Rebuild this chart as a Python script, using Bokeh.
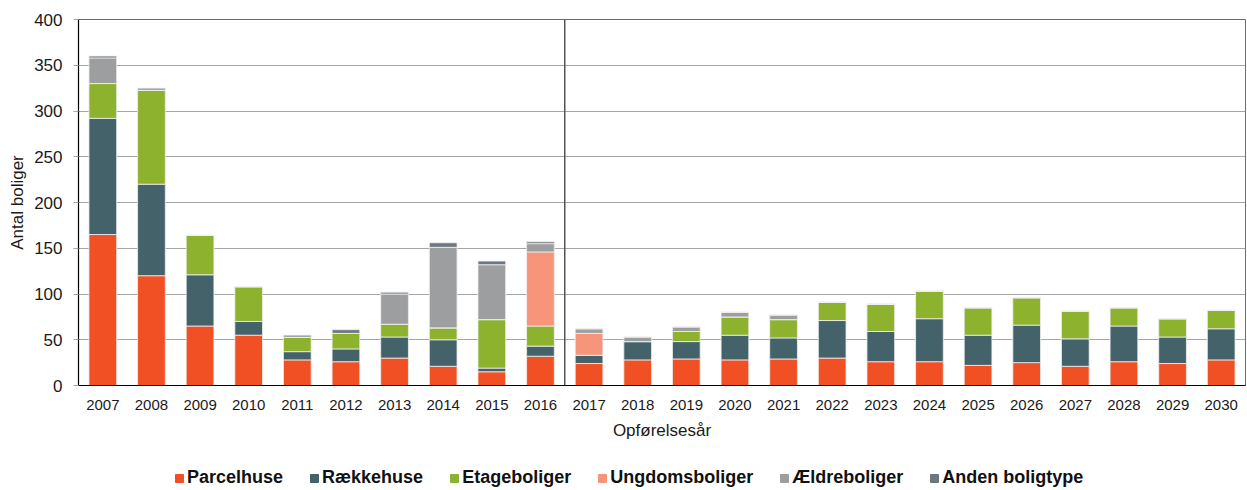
from bokeh.plotting import figure
from bokeh.models import Legend, LegendItem, Span, SingleIntervalTicker, ColumnDataSource
from bokeh.layouts import column
from bokeh.embed import file_html
from bokeh.resources import INLINE

years = [str(y) for y in range(2007, 2031)]
parcelhuse   = [165, 120, 65, 55, 28, 26, 30, 21, 15, 32, 24, 28, 29, 28, 29, 30, 26, 26, 22, 25, 21, 26, 24, 28]
raekkehuse   = [127, 100, 56, 15, 9, 14, 23, 29, 4, 11, 9, 20, 19, 27, 23, 41, 33, 47, 33, 41, 30, 39, 29, 34]
etageboliger = [38, 103, 43, 38, 16, 17, 14, 13, 53, 22, 0, 0, 11, 20, 20, 20, 30, 30, 30, 30, 30, 20, 20, 20]
ungdomsboliger = [0, 0, 0, 0, 0, 0, 0, 0, 0, 81, 24, 0, 0, 0, 0, 0, 0, 0, 0, 0, 0, 0, 0, 0]
aeldreboliger  = [28, 0, 0, 0, 0, 0, 33, 88, 60, 9, 5, 5, 5, 5, 5, 0, 0, 0, 0, 0, 0, 0, 0, 0]
anden          = [2, 2, 0, 0, 2, 4, 2, 5, 4, 2, 0, 0, 0, 0, 0, 0, 0, 0, 0, 0, 0, 0, 0, 0]

series_names = ["Parcelhuse", "Rækkehuse", "Etageboliger", "Ungdomsboliger", "Ældreboliger", "Anden boligtype"]
keys = ["p", "r", "e", "u", "ae", "a"]
colors = ["#F05023", "#44626A", "#8DB22E", "#F6957A", "#9D9E9F", "#6E7780"]

source = ColumnDataSource(dict(years=years, p=parcelhuse, r=raekkehuse, e=etageboliger,
                               u=ungdomsboliger, ae=aeldreboliger, a=anden))

FONT = "Liberation Sans"
W = 1246

p = figure(x_range=years, y_range=(0, 400), width=W, height=446,
           output_backend="svg", toolbar_location=None,
           min_border_left=78, min_border_right=1, min_border_top=19, min_border_bottom=61)

renderers = p.vbar_stack(keys, x="years", width=0.57, source=source, color=colors,
                         line_color="#f0f0f0", line_width=0.8)

# separator between historical and projected years
p.add_layout(Span(location=10, dimension="height", line_color="#555555", line_width=1.5))

p.xgrid.grid_line_color = None
p.ygrid.grid_line_color = "#a6a6a6"
p.ygrid.grid_line_width = 1.2
p.outline_line_color = "#6b6b6b"
p.outline_line_width = 1

p.yaxis.ticker = SingleIntervalTicker(interval=50)
p.yaxis.axis_label = "Antal boliger"
p.xaxis.axis_label = "Opførelsesår"
for ax in (p.xaxis, p.yaxis):
    ax.axis_line_color = "black"
    ax.axis_line_width = 1.2
    ax.major_label_text_font = FONT
    ax.axis_label_text_font = FONT
    ax.axis_label_text_font_style = "normal"
    ax.axis_label_text_color = "#1a1a1a"
    ax.major_label_text_color = "#1a1a1a"
    ax.minor_tick_line_color = None

p.yaxis.major_label_text_font_size = "17px"
p.yaxis.axis_label_text_font_size = "17px"
p.yaxis.major_tick_in = 0
p.yaxis.major_tick_out = 5
p.yaxis.major_tick_line_color = "#a6a6a6"
p.yaxis.major_label_standoff = 11
p.yaxis.axis_label_standoff = 4

p.xaxis.major_label_text_font_size = "15px"
p.xaxis.axis_label_text_font_size = "17px"
p.xaxis.major_tick_line_color = None
p.xaxis.major_label_standoff = 8
p.xaxis.axis_label_standoff = 8

# legend strip below the chart (one off-screen point per series so the swatches render)
lf = figure(x_range=(0, 1), y_range=(0, 1), width=W, height=42,
            output_backend="svg", toolbar_location=None, min_border=0)
lf.axis.visible = False
lf.grid.grid_line_color = None
lf.outline_line_color = None
hidden = ColumnDataSource(dict(x=[-10], top=[-10]))
leg_renderers = [lf.vbar(x="x", top="top", width=0.5, source=hidden, color=c) for c in colors]
items = [LegendItem(label=n, renderers=[r]) for n, r in zip(series_names, leg_renderers)]
legend = Legend(items=items, orientation="horizontal", location=(96, 0),
                label_text_font=FONT, label_text_font_style="bold", label_text_font_size="18px",
                label_text_color="#111111",
                glyph_width=10, glyph_height=10, label_standoff=3, spacing=26,
                border_line_color=None, background_fill_alpha=0, margin=0, padding=2)
lf.add_layout(legend, "center")

open("out.html", "w").write(file_html(column(p, lf), INLINE))
